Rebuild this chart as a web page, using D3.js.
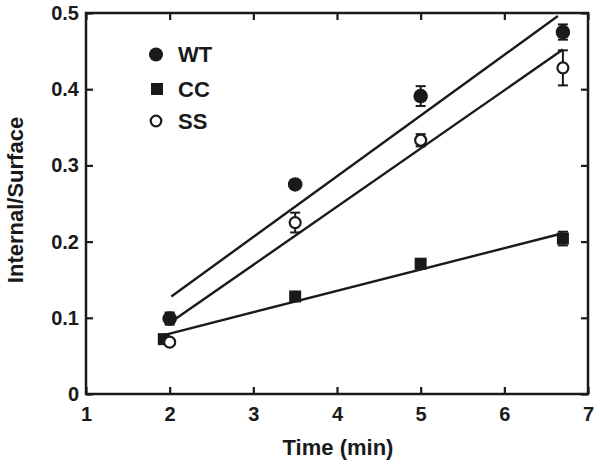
<!DOCTYPE html>
<html><head><meta charset="utf-8">
<script src="https://cdn.jsdelivr.net/npm/d3@7"></script>
<style>body{margin:0;background:#fff}svg{display:block}text{font-family:"Liberation Sans",Arial,sans-serif;font-weight:bold;fill:#1a1a1a}</style>
</head><body><svg id="c" width="600" height="466"></svg>
<script>
const times = [2, 3.5, 5, 6.7];
const ccTimes = [1.93, 3.5, 5, 6.7];
const wtValues = [0.099, 0.275, 0.391, 0.475];
const wtErrors = [0.008, 0.004, 0.013, 0.010];
const ccValues = [0.072, 0.128, 0.171, 0.204];
const ccErrors = [0.004, 0.004, 0.004, 0.009];
const ssValues = [0.068, 0.225, 0.333, 0.428];
const ssErrors = [0.003, 0.013, 0.008, 0.023];
const wtFit = [[2.02, 0.128], [6.64, 0.496]];
const ccFit = [[1.92, 0.077], [6.7, 0.211]];
const ssFit = [[2.05, 0.097], [6.7, 0.452]];
const xTicks = [1, 2, 3, 4, 5, 6, 7];
const yTicks = [0, 0.1, 0.2, 0.3, 0.4, 0.5];
const legendLabels = ["WT", "CC", "SS"];

const svg = d3.select("#c");
const x = d3.scaleLinear().domain([1, 7]).range([86, 588]);
const y = d3.scaleLinear().domain([0, 0.5]).range([394, 13]);
const ink = "#1a1a1a";

// frame
svg.append("rect").attr("x", 86).attr("y", 13).attr("width", 502).attr("height", 381)
  .attr("fill", "none").attr("stroke", ink).attr("stroke-width", 2.5);

const tl = 7;
const gB = svg.append("g").attr("transform", "translate(0,394)")
  .call(d3.axisBottom(x).tickValues(xTicks).tickFormat(d3.format("d")).tickSize(-tl).tickPadding(13));
const gT = svg.append("g").attr("transform", "translate(0,13)")
  .call(d3.axisTop(x).tickValues(xTicks).tickFormat("").tickSize(-tl));
const gL = svg.append("g").attr("transform", "translate(86,0)")
  .call(d3.axisLeft(y).tickValues(yTicks).tickFormat(d => d === 0 ? "0" : d3.format(".1f")(d)).tickSize(-tl).tickPadding(7));
const gR = svg.append("g").attr("transform", "translate(588,0)")
  .call(d3.axisRight(y).tickValues(yTicks).tickFormat("").tickSize(-tl));
[gB, gT, gL, gR].forEach(g => {
  g.select(".domain").remove();
  g.selectAll(".tick line").attr("stroke", ink).attr("stroke-width", 2.2);
  g.selectAll("text").attr("font-size", 20).attr("fill", ink).attr("font-family", null);
});

// axis titles
svg.append("text").attr("x", 338).attr("y", 455).attr("text-anchor", "middle").attr("font-size", 22).text("Time (min)");
svg.append("text").attr("transform", "translate(23,200) rotate(-90)").attr("text-anchor", "middle").attr("font-size", 22).text("Internal/Surface");

// fit lines
const line = d3.line().x(d => x(d[0])).y(d => y(d[1]));
[wtFit, ssFit, ccFit].forEach(f => {
  svg.append("path").attr("d", line(f)).attr("fill", "none").attr("stroke", ink).attr("stroke-width", 2.4);
});

function errorBars(xs, vals, errs) {
  const g = svg.append("g").attr("stroke", ink).attr("stroke-width", 2);
  xs.forEach((t, i) => {
    const cx = x(t), y1 = y(vals[i] + errs[i]), y2 = y(vals[i] - errs[i]);
    g.append("line").attr("x1", cx).attr("x2", cx).attr("y1", y1).attr("y2", y2);
    g.append("line").attr("x1", cx - 5).attr("x2", cx + 5).attr("y1", y1).attr("y2", y1);
    g.append("line").attr("x1", cx - 5).attr("x2", cx + 5).attr("y1", y2).attr("y2", y2);
  });
}
errorBars(times, wtValues, wtErrors);
errorBars(ccTimes, ccValues, ccErrors);
errorBars(times, ssValues, ssErrors);

// markers
svg.append("g").selectAll("circle").data(times).join("circle")
  .attr("cx", d => x(d)).attr("cy", (d, i) => y(wtValues[i])).attr("r", 7.3).attr("fill", ink);
svg.append("g").selectAll("rect").data(ccTimes).join("rect")
  .attr("x", d => x(d) - 6).attr("y", (d, i) => y(ccValues[i]) - 6).attr("width", 12).attr("height", 12).attr("fill", ink);
svg.append("g").selectAll("circle").data(times).join("circle")
  .attr("cx", d => x(d)).attr("cy", (d, i) => y(ssValues[i])).attr("r", 5.5)
  .attr("fill", "#fff").attr("stroke", ink).attr("stroke-width", 2.2);

// legend
const lg = svg.append("g");
const ly = [54.5, 89, 121];
lg.append("circle").attr("cx", 156).attr("cy", ly[0]).attr("r", 7).attr("fill", ink);
lg.append("rect").attr("x", 151).attr("y", ly[1] - 6).attr("width", 12).attr("height", 12).attr("fill", ink);
lg.append("circle").attr("cx", 156).attr("cy", ly[2]).attr("r", 5.3).attr("fill", "#fff").attr("stroke", ink).attr("stroke-width", 2.2);
lg.selectAll("text").data(legendLabels).join("text")
  .attr("x", 178).attr("y", (d, i) => ly[i]).attr("dy", "0.36em").attr("font-size", 22).text(d => d);
</script></body></html>
